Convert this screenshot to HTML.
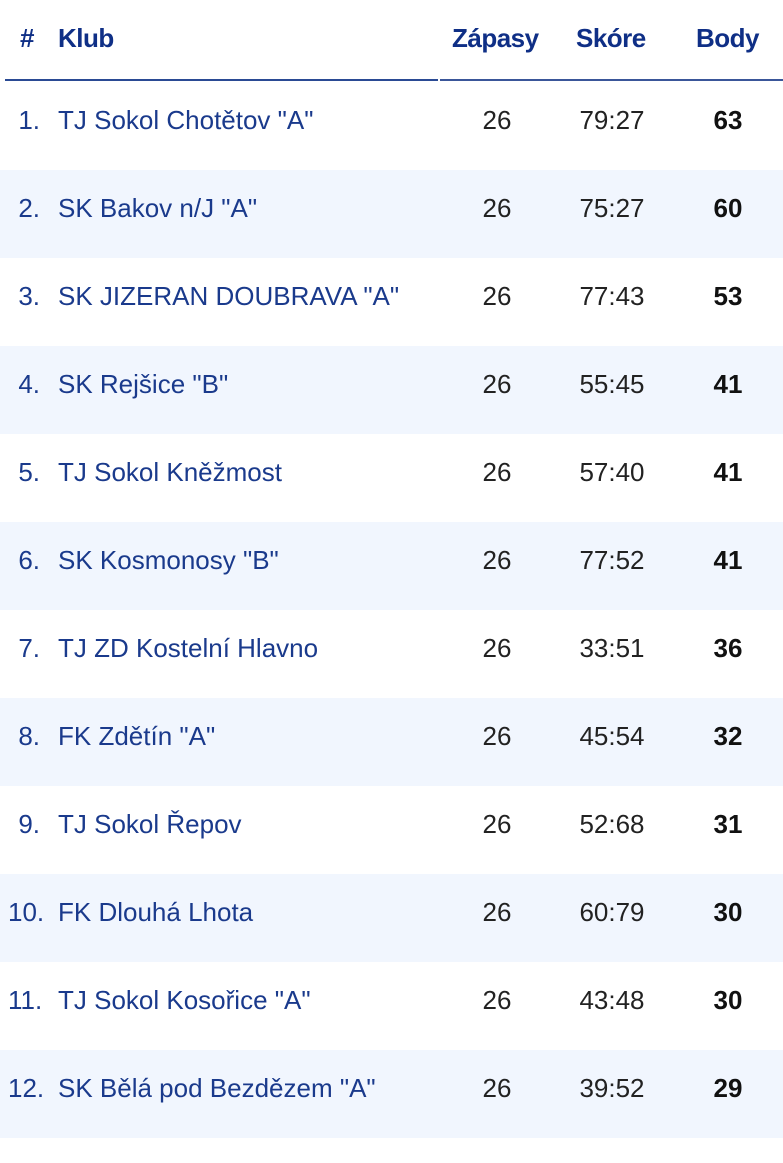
<!DOCTYPE html>
<html><head><meta charset="utf-8"><style>
body{margin:0;width:783px;height:1163px;background:#fff;font-family:"Liberation Sans",sans-serif;overflow:hidden;position:relative}
.h{position:absolute;top:18px;font-weight:bold;font-size:26px;color:#0f2f86;line-height:40px;letter-spacing:-0.5px}
.line{position:absolute;top:79px;height:2px;background:#2a4a94}
.row{position:absolute;left:0;width:783px;height:88px}
.row.alt{background:#f1f6fe}
.row span{position:absolute;top:18px;line-height:40px;font-size:26px}
.n{left:8px;width:32px;text-align:right;color:#1a3a8c}
.c{left:58px;color:#1a3a8c}
.z{left:457px;width:80px;text-align:center;color:#222}
.s{left:562px;width:100px;text-align:center;color:#222}
.b{left:688px;width:80px;text-align:center;color:#111;font-weight:bold}
</style></head><body>
<div class="h" style="left:20px">#</div>
<div class="h" style="left:58px">Klub</div>
<div class="h" style="left:452px">Zápasy</div>
<div class="h" style="left:576px">Skóre</div>
<div class="h" style="left:696px">Body</div>
<div class="line" style="left:5px;width:433px"></div>
<div class="line" style="left:440px;width:343px;background:#3a5699"></div>
<div class="row" style="top:82px"><span class="n">1.</span><span class="c">TJ Sokol Chotětov "A"</span><span class="z">26</span><span class="s">79:27</span><span class="b">63</span></div>
<div class="row alt" style="top:170px"><span class="n">2.</span><span class="c">SK Bakov n/J "A"</span><span class="z">26</span><span class="s">75:27</span><span class="b">60</span></div>
<div class="row" style="top:258px"><span class="n">3.</span><span class="c">SK JIZERAN DOUBRAVA "A"</span><span class="z">26</span><span class="s">77:43</span><span class="b">53</span></div>
<div class="row alt" style="top:346px"><span class="n">4.</span><span class="c">SK Rejšice "B"</span><span class="z">26</span><span class="s">55:45</span><span class="b">41</span></div>
<div class="row" style="top:434px"><span class="n">5.</span><span class="c">TJ Sokol Kněžmost</span><span class="z">26</span><span class="s">57:40</span><span class="b">41</span></div>
<div class="row alt" style="top:522px"><span class="n">6.</span><span class="c">SK Kosmonosy "B"</span><span class="z">26</span><span class="s">77:52</span><span class="b">41</span></div>
<div class="row" style="top:610px"><span class="n">7.</span><span class="c">TJ ZD Kostelní Hlavno</span><span class="z">26</span><span class="s">33:51</span><span class="b">36</span></div>
<div class="row alt" style="top:698px"><span class="n">8.</span><span class="c">FK Zdětín "A"</span><span class="z">26</span><span class="s">45:54</span><span class="b">32</span></div>
<div class="row" style="top:786px"><span class="n">9.</span><span class="c">TJ Sokol Řepov</span><span class="z">26</span><span class="s">52:68</span><span class="b">31</span></div>
<div class="row alt" style="top:874px"><span class="n">10.</span><span class="c">FK Dlouhá Lhota</span><span class="z">26</span><span class="s">60:79</span><span class="b">30</span></div>
<div class="row" style="top:962px"><span class="n">11.</span><span class="c">TJ Sokol Kosořice "A"</span><span class="z">26</span><span class="s">43:48</span><span class="b">30</span></div>
<div class="row alt" style="top:1050px"><span class="n">12.</span><span class="c">SK Bělá pod Bezdězem "A"</span><span class="z">26</span><span class="s">39:52</span><span class="b">29</span></div>
</body></html>
